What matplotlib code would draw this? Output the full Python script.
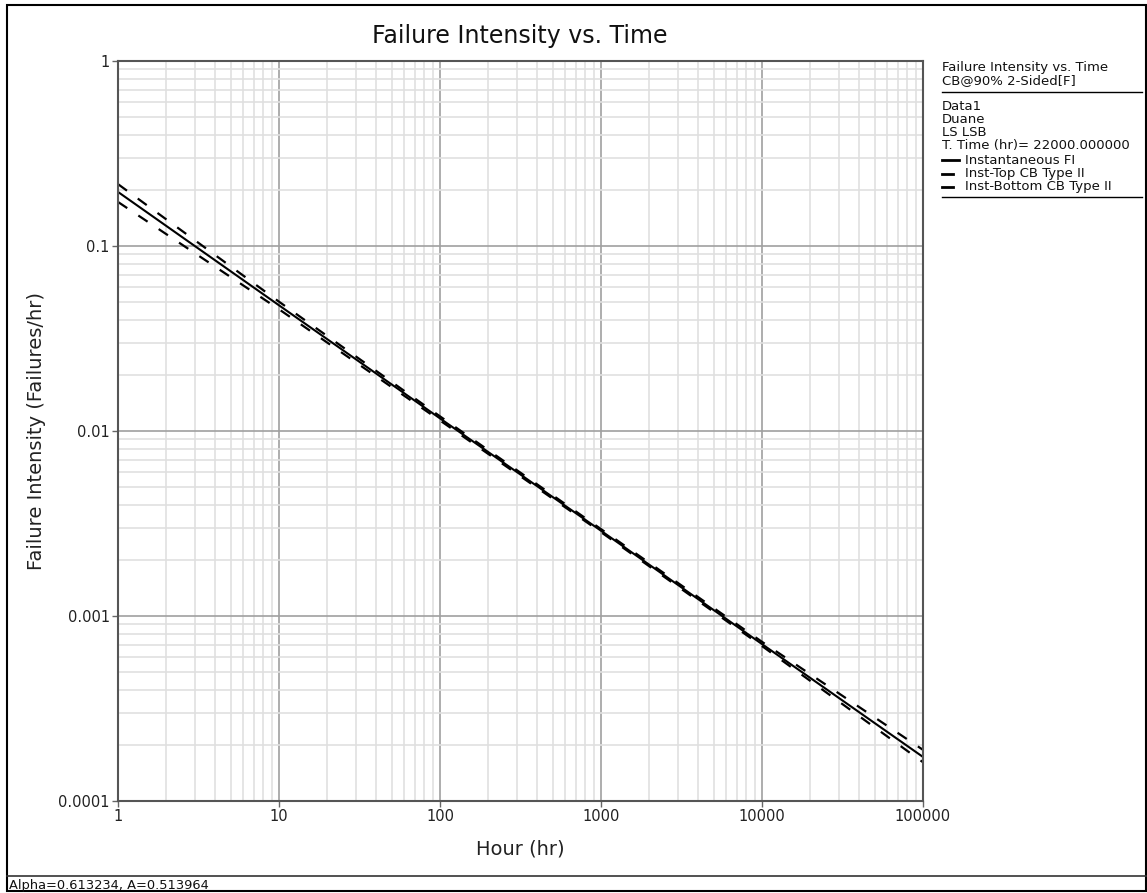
import matplotlib
matplotlib.use("Agg")
import matplotlib.pyplot as plt
from matplotlib.lines import Line2D
from matplotlib.patches import Rectangle
from matplotlib.ticker import LogLocator, FixedLocator, FixedFormatter, NullFormatter

W, H = 1147, 893

# Duane fit, failure intensity read at each decade of time
hours = [1, 10, 100, 1000, 10000, 100000]
inst_fi = [0.196, 0.0478, 0.0117, 0.00289, 0.000705, 0.000173]
inst_top = [0.216, 0.0500, 0.0120, 0.00295, 0.000725, 0.000189]
inst_bottom = [0.173, 0.0455, 0.0114, 0.00284, 0.000688, 0.000162]

x_ticks = [1, 10, 100, 1000, 10000, 100000]
x_labels = ["1", "10", "100", "1000", "10000", "100000"]
y_ticks = [0.0001, 0.001, 0.01, 0.1, 1]
y_labels = ["0.0001", "0.001", "0.01", "0.1", "1"]

legend_head = ["Failure Intensity vs. Time", "CB@90% 2-Sided[F]"]
legend_info = ["Data1", "Duane", "LS LSB", "T. Time (hr)= 22000.000000"]
legend_series = ["Instantaneous FI", "Inst-Top CB Type II", "Inst-Bottom CB Type II"]
status = "Alpha=0.613234, A=0.513964"

plt.rcParams["font.family"] = ["DejaVu Sans"]


def fx(x):
    return x / W


def fy(y):
    return 1 - y / H


fig = plt.figure(figsize=(W / 100, H / 100), dpi=100)
ax = fig.add_axes([fx(118), fy(801), fx(923) - fx(118), fy(61) - fy(801)])

ax.set_xscale("log")
ax.set_yscale("log")
ax.set_xlim(1, 100000)
ax.set_ylim(0.0001, 1)

ax.xaxis.set_major_locator(FixedLocator(x_ticks))
ax.xaxis.set_major_formatter(FixedFormatter(x_labels))
ax.yaxis.set_major_locator(FixedLocator(y_ticks))
ax.yaxis.set_major_formatter(FixedFormatter(y_labels))
ax.xaxis.set_minor_locator(LogLocator(base=10, subs=range(2, 10), numticks=20))
ax.yaxis.set_minor_locator(LogLocator(base=10, subs=range(2, 10), numticks=20))
ax.xaxis.set_minor_formatter(NullFormatter())
ax.yaxis.set_minor_formatter(NullFormatter())

ax.grid(which="minor", color="#e0e0e0", lw=1.2)
ax.grid(which="major", color="#a0a0a0", lw=1.2)
ax.set_axisbelow(True)
ax.tick_params(which="major", direction="out", length=4, width=1, color="#666666",
               labelsize=10.5, labelcolor="#222222", pad=2)
ax.tick_params(which="minor", length=0)
for sp in ax.spines.values():
    sp.set_color("#555555")
    sp.set_linewidth(1.5)

ax.plot(hours, inst_fi, color="black", lw=1.5, solid_capstyle="butt")
ax.plot(hours, inst_top, color="black", lw=1.6, dashes=(5, 6))
ax.plot(hours, inst_bottom, color="black", lw=1.6, dashes=(5, 6))

ax.set_xlabel("Hour (hr)", fontsize=14, color="#222222", labelpad=11)
ax.set_ylabel("Failure Intensity (Failures/hr)", fontsize=14, color="#222222", labelpad=9)

fig.text(fx(520), fy(36), "Failure Intensity vs. Time", fontsize=17,
         ha="center", va="center", color="#111111")

# legend block on the right
lx, ly, step = 942, 67, 13.3
fs = 9.5
for i, t in enumerate(legend_head):
    fig.text(fx(lx), fy(ly + i * step), t, fontsize=fs, va="center", color="#111111")
fig.add_artist(Line2D([fx(942), fx(1142)], [fy(92), fy(92)], color="black", lw=1))
y0 = 106
for i, t in enumerate(legend_info):
    fig.text(fx(lx), fy(y0 + i * step), t, fontsize=fs, va="center", color="#111111")
y1 = y0 + len(legend_info) * step + 1
for i, t in enumerate(legend_series):
    yy = y1 + i * step
    x_end = 959 if i == 0 else 953
    fig.add_artist(Line2D([fx(942), fx(x_end)], [fy(yy), fy(yy)], color="black", lw=2))
    fig.text(fx(965), fy(yy), t, fontsize=fs, va="center", color="#111111")
fig.add_artist(Line2D([fx(942), fx(1142)], [fy(197), fy(197)], color="black", lw=1))

# status bar and outer frame
fig.add_artist(Line2D([fx(7), fx(1146)], [fy(876), fy(876)], color="#333333", lw=1.2))
fig.text(fx(9), fy(885), status, fontsize=9.4, va="center", color="#111111")
fig.add_artist(Rectangle((fx(7), fy(891)), fx(1139), fy(5) - fy(891),
                         transform=fig.transFigure, fill=False, ec="black", lw=1.5))

fig.savefig("out.png", dpi=100)
